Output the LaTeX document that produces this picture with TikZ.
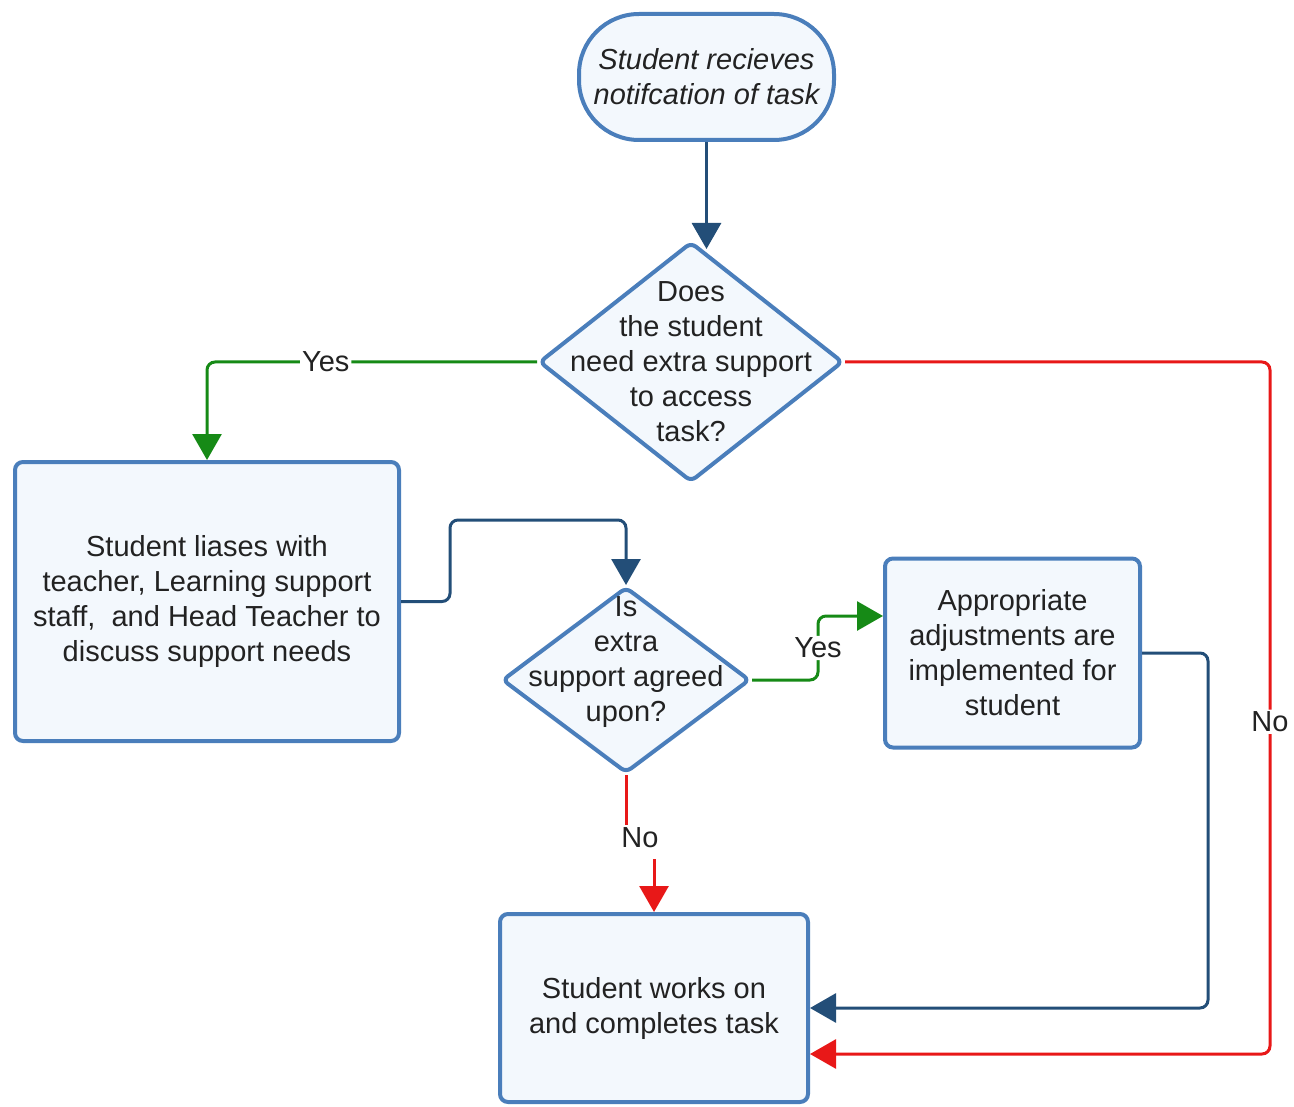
\documentclass[tikz,border=0pt]{standalone}
\usepackage{fontspec}
\setmainfont{Liberation Sans}
\usepackage{xcolor}
\usepackage{tikz}
\usetikzlibrary{shapes.geometric,arrows.meta}
\definecolor{boxline}{RGB}{74,126,187}
\definecolor{boxfill}{RGB}{243,248,253}
\definecolor{navy}{RGB}{35,78,120}
\definecolor{yesgreen}{RGB}{22,138,22}
\definecolor{nored}{RGB}{232,24,24}
\definecolor{ink}{RGB}{34,34,34}

\begin{document}
\begin{tikzpicture}[x=1pt, y=-1pt,
    font=\fontsize{29pt}{35pt}\selectfont, text=ink,
    process/.style={draw=boxline, fill=boxfill, line width=4pt, rounded corners=8pt, align=center},
    terminal/.style={process, rounded corners=60pt, minimum width=255pt, minimum height=126pt,
      font=\fontsize{29pt}{35pt}\selectfont\itshape},
    decision/.style={diamond, draw=boxline, fill=boxfill, line width=4pt, rounded corners=6pt, inner sep=0pt},
    qtext/.style={align=center, inner sep=0pt, text=ink},
    lbl/.style={fill=white, inner sep=2pt, text=ink},
    tip/.style={-{Triangle[width=29pt,length=26pt]}},
    wire/.style={line width=3pt, rounded corners=8pt},
    navyflow/.style={wire, tip, draw=navy},
    yesflow/.style={wire, tip, draw=yesgreen},
    noflow/.style={wire, tip, draw=nored}]
    \useasboundingbox (0,0) rectangle (1294,1107);

    \node[terminal] (start) at (706.5,77) {Student recieves\\notifcation of task};
    \node[decision, minimum width=304pt, minimum height=240pt,
      label={[qtext]center:{Does\\the student\\need extra support\\to access\\task?}}] (ask) at (691,362) {};
    \node[process, minimum width=384pt, minimum height=279pt] (liaise) at (207,601.5)
      {Student liases with\\teacher, Learning support\\staff,~ and Head Teacher to\\discuss support needs};
    \node[decision, minimum width=248pt, minimum height=186pt,
      label={[qtext, yshift=18pt]center:{Is\\extra\\support agreed\\upon?}}] (agree) at (626,680) {};
    \node[process, minimum width=255pt, minimum height=189pt] (adjust) at (1012.5,653)
      {Appropriate\\adjustments are\\implemented for\\student};
    \node[process, minimum width=308pt, minimum height=188pt] (work) at (654,1008)
      {Student works on\\and completes task};
    \node[inner sep=3pt] (nolow) at (640,838) {No};

    \draw[navyflow, shorten >=-9pt] (start.south) -- (ask.north -| start.south);
    \draw[yesflow] (ask.west) -| node[lbl, pos=0.32] {Yes} (liaise.north);
    \draw[navyflow] (liaise.east) -- ++(49,0) |- ([yshift=65pt]agree.north) -- (agree.north);
    \draw[yesflow] (agree.east) -- ++(66,0) -- node[lbl] {Yes} ++(0,-64) -- ([yshift=37pt]adjust.west);
    \draw[navyflow] (adjust.east) -- ++(66,0) |- (work.east);
    \draw[noflow] (ask.east) -- ++(425,0) -- node[lbl, pos=0.52] {No} ++(0,692) -- ([yshift=-46pt]work.east);
    \draw[wire, draw=nored] (agree.south) -- (agree.south |- nolow.north);
    \draw[noflow] ([yshift=-8pt]nolow.south -| work.north) -- (work.north);
\end{tikzpicture}
\end{document}
